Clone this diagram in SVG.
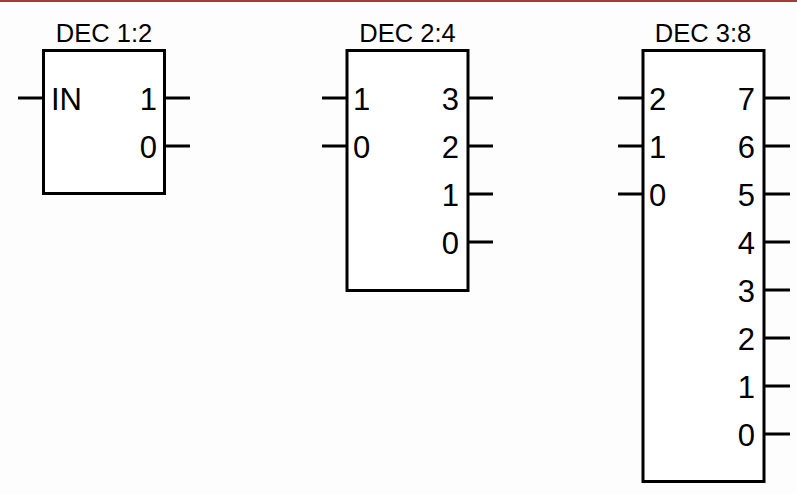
<svg xmlns="http://www.w3.org/2000/svg" width="797" height="494" viewBox="0 0 797 494">
<style>
.box{fill:#fff;stroke:#000;stroke-width:3}
.pin{stroke:#000;stroke-width:3;fill:none}
.t{font-family:"Liberation Sans",Arial,sans-serif;font-size:25.5px;fill:#000;text-anchor:middle}
.l{font-family:"Liberation Sans",Arial,sans-serif;font-size:31px;fill:#000}
.r{font-family:"Liberation Sans",Arial,sans-serif;font-size:31px;fill:#000;text-anchor:end}
</style>
<rect x="0" y="0" width="797" height="494" fill="#fdfdfd"/>
<rect x="0" y="0" width="797" height="2" fill="#a03c3c"/>
<g id="connectors">
<path class="pin" d="M18 98H43"/>
<path class="pin" d="M165 98H190M165 146H190"/>
<path class="pin" d="M322 98H347M322 146H347"/>
<path class="pin" d="M468 98H493M468 146H493M468 194H493M468 242H493"/>
<path class="pin" d="M618 98H643M618 146H643M618 194H643"/>
<path class="pin" d="M764 98H790M764 146H790M764 194H790M764 242H790M764 290H790M764 338H790M764 386H790M764 434H790"/>
</g>
<g id="dec12">
<rect class="box" x="43.5" y="50.5" width="121" height="143"/>
<text class="t" x="104" y="42">DEC 1:2</text>
<text class="l" x="51" y="110">IN</text>
<text class="r" x="157" y="110">1</text>
<text class="r" x="157" y="158">0</text>
</g>
<g id="dec24">
<rect class="box" x="347" y="50.5" width="121" height="240"/>
<text class="t" x="407.5" y="42">DEC 2:4</text>
<text class="l" x="353" y="110">1</text>
<text class="l" x="353" y="158">0</text>
<text class="r" x="459" y="110">3</text>
<text class="r" x="459" y="158">2</text>
<text class="r" x="459" y="206">1</text>
<text class="r" x="459" y="254">0</text>
</g>
<g id="dec38">
<rect class="box" x="643" y="50.5" width="121" height="431"/>
<text class="t" x="703" y="42">DEC 3:8</text>
<text class="l" x="649" y="110">2</text>
<text class="l" x="649" y="158">1</text>
<text class="l" x="649" y="206">0</text>
<text class="r" x="755" y="110">7</text>
<text class="r" x="755" y="158">6</text>
<text class="r" x="755" y="206">5</text>
<text class="r" x="755" y="254">4</text>
<text class="r" x="755" y="302">3</text>
<text class="r" x="755" y="350">2</text>
<text class="r" x="755" y="398">1</text>
<text class="r" x="755" y="446">0</text>
</g>
</svg>
